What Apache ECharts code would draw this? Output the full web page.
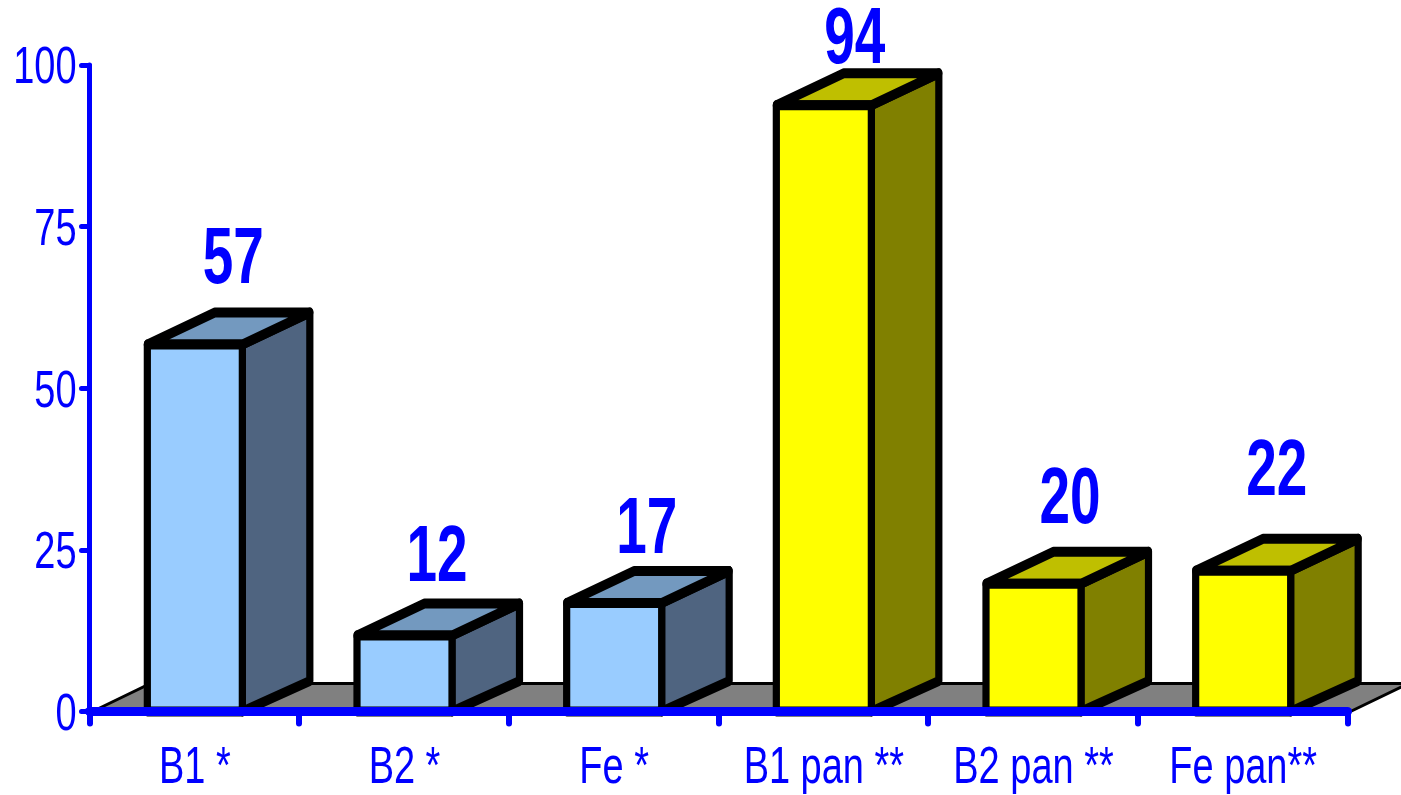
<!DOCTYPE html>
<html>
<head>
<meta charset="utf-8">
<script src="https://cdn.jsdelivr.net/npm/echarts@6/dist/echarts.min.js"></script>
<style>html,body{margin:0;padding:0;background:#fff}#c{width:1401px;height:795px}</style>
</head>
<body>
<div id="c"></div>
<script>
const categories = ['B1 *', 'B2 *', 'Fe *', 'B1 pan **', 'B2 pan **', 'Fe pan**'];
const values = [57, 12, 17, 94, 20, 22];
const yTicks = [0, 25, 50, 75, 100];

// presentation constants
const BLUE = '#0000FF';
const groupOfBar = [0, 0, 0, 1, 1, 1];
const faceColors = [
  { front: '#99CCFF', top: '#7399BF', side: '#4F6480' },
  { front: '#FFFF00', top: '#BFBF00', side: '#808000' }
];
const BAR_W = 95, DX = 67.5, DY = 32, EDGE = 10;
const labelShiftX = [39, 33, 33, 31.5, 37, 34];
const labelLift = [82, 75, 70.5, 63, 81, 96];
const SQUEEZE = 0.72;   // the whole picture is horizontally condensed: strokes and glyphs share it

const chart = echarts.init(document.getElementById('c'), null, { renderer: 'canvas' });

function renderFloor(params, api) {
  const o = api.coord([0, 0]);
  const cs = params.coordSys;
  const y0 = o[1], x0 = cs.x + 3, x1 = cs.x + cs.width + 3, fx = 58, fy = 28;
  const tl = [x0 + fx, y0 - fy], tr = [x1 + fx, y0 - fy];
  return { type: 'group', children: [
    { type: 'polygon', shape: { points: [[x0, y0], tl, tr, [x1, y0]] }, style: { fill: '#808080', stroke: null } },
    { type: 'polyline', shape: { points: [[x0, y0], tl, tr, [x1, y0]] }, style: { fill: null, stroke: '#000', lineWidth: 3 } }
  ]};
}

function renderBar(params, api) {
  const i = api.value(0), v = api.value(1);
  const base = api.coord([i, 0]), top = api.coord([i, v]);
  const c = faceColors[groupOfBar[i]];
  const l = 0, r = BAR_W / SQUEEZE, dx = DX / SQUEEZE, b = base[1], t = top[1] + 1.5;
  const face = (pts, fill) => ({ type: 'polygon', shape: { points: pts },
    style: { fill, stroke: '#000', lineWidth: EDGE, lineJoin: 'round' } });
  return { type: 'group', x: base[0] - BAR_W / 2 + 0.5, scaleX: SQUEEZE, children: [
    face([[r, b], [r + dx, b - DY + 1.5], [r + dx, t - DY], [r, t]], c.side),
    face([[l, t], [l + dx, t - DY], [r + dx, t - DY], [r, t]], c.top),
    face([[l, b], [l, t], [r, t], [r, b]], c.front)
  ]};
}

function renderValueLabel(params, api) {
  const i = api.value(0), v = api.value(1);
  const p = api.coord([i, v]);
  return { type: 'text', x: p[0] + labelShiftX[i], y: p[1] - labelLift[i], scaleX: 0.695,
    style: { text: String(v), fill: BLUE, fontFamily: 'Liberation Sans', fontWeight: 'bold', fontSize: 79,
      textAlign: 'center', textVerticalAlign: 'middle' } };
}

function renderCatLabel(params, api) {
  const i = api.value(0);
  const p = api.coord([i, 0]);
  return { type: 'text', x: p[0] + 0.5, y: p[1] + 57, scaleX: 0.73,
    style: { text: categories[i], fill: BLUE, fontFamily: 'Liberation Sans', fontSize: 52,
      textAlign: 'center', textVerticalAlign: 'middle' } };
}

function renderTickLabel(params, api) {
  const v = api.value(0);
  const p = api.coord([0, v]);
  return { type: 'text', x: params.coordSys.x - 13, y: p[1] + 4, scaleX: 0.73,
    style: { text: String(v), fill: BLUE, fontFamily: 'Liberation Sans', fontSize: 52,
      textAlign: 'right', textVerticalAlign: 'middle' } };
}

chart.setOption({
  animation: false,
  backgroundColor: '#fff',
  grid: { left: 89.5, top: 65, width: 1258, height: 646.5 },
  xAxis: {
    type: 'category', data: categories, z: 5,
    axisLine: { lineStyle: { color: BLUE, width: 9, cap: 'round' } },
    axisTick: { show: true, alignWithLabel: false, length: 12, lineStyle: { color: BLUE, width: 6, cap: 'round' } },
    axisLabel: { show: false }, splitLine: { show: false }
  },
  yAxis: {
    type: 'value', min: 0, max: 100, interval: 25, z: 5,
    axisLine: { show: true, lineStyle: { color: BLUE, width: 5, cap: 'round' } },
    axisTick: { show: true, length: 8, lineStyle: { color: BLUE, width: 5, cap: 'round' } },
    axisLabel: { show: false }, splitLine: { show: false }
  },
  series: [
    { type: 'custom', z: 1, renderItem: renderFloor, data: [[0, 0]], silent: true },
    { type: 'custom', z: 2, renderItem: renderBar, data: values.map((v, i) => [i, v]), encode: { x: 0, y: 1 } },
    { type: 'custom', z: 6, renderItem: renderValueLabel, data: values.map((v, i) => [i, v]), encode: { x: 0, y: 1 } },
    { type: 'custom', z: 6, renderItem: renderCatLabel, data: categories.map((c, i) => [i]), encode: { x: 0 } },
    { type: 'custom', z: 6, renderItem: renderTickLabel, data: yTicks.map(v => [v]), encode: { y: 0 } }
  ]
});
</script>
</body>
</html>
